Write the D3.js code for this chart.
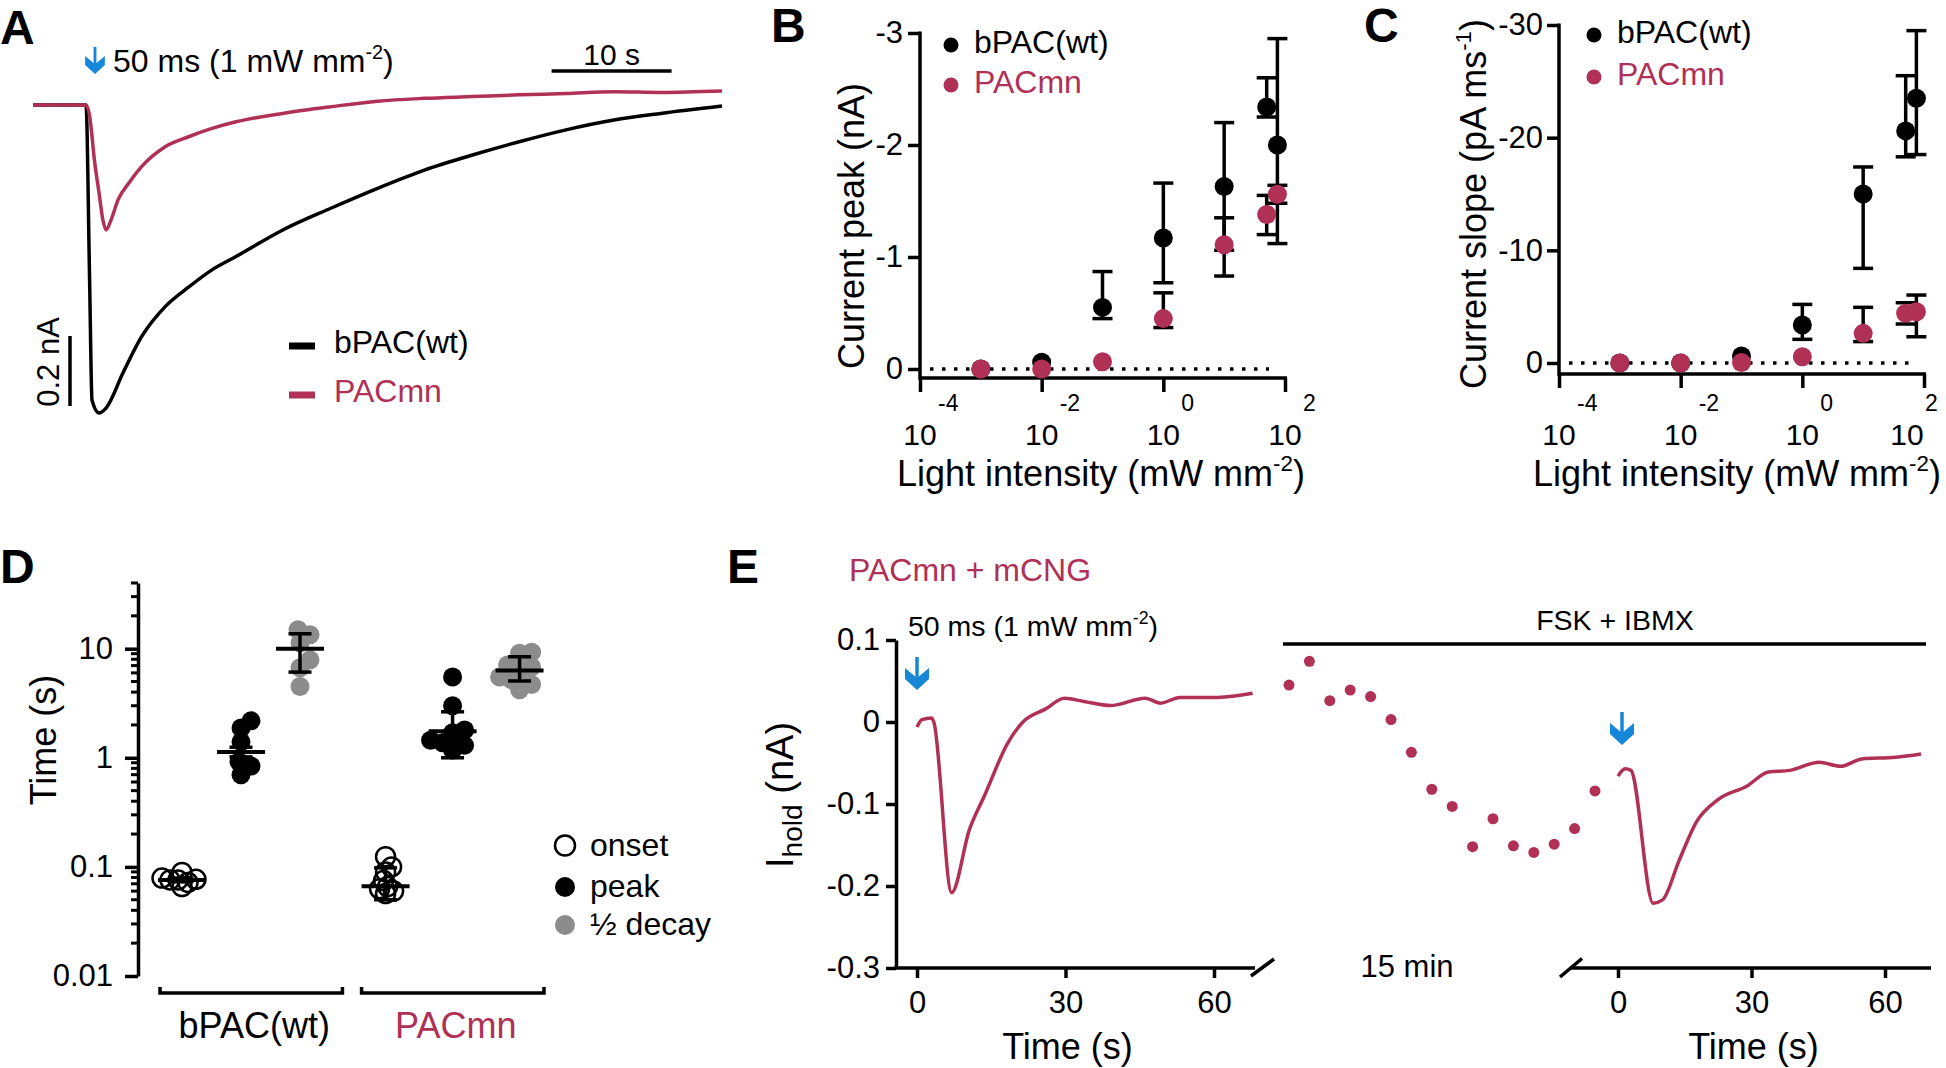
<!DOCTYPE html>
<html>
<head>
<meta charset="utf-8">
<script src="https://cdn.jsdelivr.net/npm/d3@7"></script>
<style>
  body { margin: 0; background: #fff; }
  text { font-family: "Liberation Sans", Arial, Helvetica, sans-serif; }
</style>
</head>
<body>
<div id="figure"></div>
<script>
var svgWidth = 1946;
var svgHeight = 1068;
var red = "#b03056";
var blue = "#1686d8";
var grey = "#8c8c8c";
var lw = 3.5;

// ---------- data ----------
// A: example photocurrents (time in s after the flash, current in nA)
var timeWt = [-4.4, -2, 0, 0.3, 0.5, 1.08, 1.67, 3.06, 4.63, 6.6, 8.6, 10.5, 12.5, 16.4, 20.4, 24.3, 28.2, 32.2, 36.1, 40.0, 44.0, 47.9, 53.0];
var currentWt = [0, 0, 0, -0.5, -0.843, -0.88, -0.866, -0.767, -0.662, -0.576, -0.519, -0.471, -0.433, -0.357, -0.295, -0.238, -0.186, -0.143, -0.105, -0.071, -0.043, -0.024, -0.003];
var timeMn = [-4.4, -2, 0, 0.31, 0.7, 1.09, 1.41, 1.68, 2.08, 2.67, 3.65, 4.63, 6.6, 8.6, 10.5, 12.5, 16.4, 20.4, 24.3, 28.2, 32.2, 36.1, 40.0, 44.0, 47.9, 53.0];
var currentMn = [0, 0, 0, -0.033, -0.157, -0.252, -0.329, -0.357, -0.329, -0.271, -0.219, -0.176, -0.119, -0.090, -0.067, -0.048, -0.024, -0.005, 0.011, 0.019, 0.024, 0.029, 0.033, 0.038, 0.036, 0.040];

// B, C: light intensity (mW mm-2)
var lightIntensity = [0.001, 0.01, 0.1, 1, 10, 50, 75];
var intensityPowers = [-4, -2, 0, 2];
// B: current peak (nA), ends of error bars
var peakWt   = [0, -0.06, -0.55, -1.17, -1.63, -2.34, -2.0];
var peakWtHi = [null, null, -0.87, -1.66, -2.20, -2.60, -2.95];
var peakWtLo = [null, null, -0.45, -0.77, -1.06, -2.25, -1.12];
var peakMn   = [0, 0, -0.065, -0.45, -1.11, -1.38, -1.56];
var peakMnHi = [null, null, null, -0.68, -1.35, -1.55, -1.64];
var peakMnLo = [null, null, null, -0.37, -0.83, -1.20, -1.48];
var peakTicks = [0, -1, -2, -3];
// C: current slope (pA ms-1)
var slopeWt   = [0, 0, -0.62, -3.37, -15.0, -20.6, -23.5];
var slopeWtHi = [null, null, null, -5.2, -17.4, -25.5, -29.5];
var slopeWtLo = [null, null, null, -2.1, -8.4, -18.3, -18.5];
var slopeMn   = [0, 0, -0.05, -0.56, -2.63, -4.41, -4.55];
var slopeMnHi = [null, null, null, null, -4.94, -5.35, -6.03];
var slopeMnLo = [null, null, null, null, -1.9, -3.46, -2.33];
var slopeTicks = [0, -10, -20, -30];

// D: kinetics (s)
var groups = ["bPAC(wt)", "PACmn"];
var measures = ["onset", "peak", "\u00bd decay"];
var onsetWt = [0.079, 0.072, 0.076, 0.076, 0.089, 0.077, 0.066];
var peakTimeWt = [1.88, 2.18, 1.40, 0.92, 0.84, 0.70];
var decayWt = [14.9, 13.4, 11.3, 7.9, 6.7, 4.5];
var onsetMn = [0.124, 0.100, 0.090, 0.075, 0.066, 0.060, 0.057, 0.063];
var peakTimeMn = [5.5, 3.0, 1.70, 1.80, 1.45, 1.30, 1.18, 1.37];
var decayMn = [9.3, 9.1, 6.8, 7.1, 5.2, 5.5, 4.2, 4.7, 6.3];
var meanWt = [0.076, 1.13, 10.0];
var hiWt = [0.079, 1.25, 13.7];
var loWt = [0.073, 1.02, 6.1];
var meanMn = [0.0665, 1.75, 6.3];
var hiMn = [0.098, 2.64, 8.44];
var loMn = [0.05, 1.0, 5.06];
var timeTicks = [0.01, 0.1, 1, 10];

// E: holding current (nA)
var timeBefore = [0, 1, 2.9, 3.4, 7.0, 10.6, 13.7, 18.3, 21.4, 26.0, 29.8, 33.7, 39.1, 46.1, 49.2, 53.1, 60.8, 67.8];
var holdBefore = [-0.006, 0.003, 0.005, 0.0, -0.208, -0.131, -0.089, -0.026, 0.0, 0.016, 0.029, 0.025, 0.020, 0.029, 0.023, 0.030, 0.030, 0.035];
var drugMinutes = [0, 1, 2, 3, 4, 5, 6, 7, 8, 9, 10, 11, 12, 13, 14, 15];
var holdDrug = [0.045, 0.074, 0.026, 0.039, 0.031, 0.003, -0.037, -0.082, -0.103, -0.152, -0.118, -0.151, -0.159, -0.149, -0.130, -0.084];
var timeAfter = [0, 1.6, 2.9, 7.9, 10.0, 13.8, 17.6, 22.4, 29.0, 33.8, 38.6, 45.2, 50.0, 54.8, 62.4, 68.1];
var holdAfter = [-0.066, -0.057, -0.059, -0.221, -0.217, -0.168, -0.122, -0.095, -0.078, -0.061, -0.059, -0.049, -0.054, -0.045, -0.043, -0.039];
var holdTicks = [0.1, 0, -0.1, -0.2, -0.3];
var secTicks = [0, 30, 60];

// ---------- helpers ----------
var svg = d3.select("#figure").append("svg")
  .attr("width", svgWidth)
  .attr("height", svgHeight);
svg.append("rect").attr("width", svgWidth).attr("height", svgHeight).attr("fill", "#fff");

// text made of parts: "plain", {sup: ".."} or {sub: ".."}
function richText(parent, x, y, parts, size, opt) {
  opt = opt || {};
  var t = parent.append("text")
    .attr("x", x).attr("y", y)
    .attr("font-size", size)
    .attr("text-anchor", opt.anchor || "start")
    .attr("fill", opt.color || "#000")
    .attr("font-weight", opt.weight || null);
  var shift = 0;
  parts.forEach(function (p) {
    var kind = typeof p === "string" ? "n" : (p.sup != null ? "sup" : "sub");
    var str = typeof p === "string" ? p : (kind === "sup" ? p.sup : p.sub);
    var target = 0, fs = size;
    if (kind === "sup") { target = -(opt.rise || 0.42) * size; fs = size * (opt.supScale || 0.62); }
    if (kind === "sub") { target = (opt.drop || 0.24) * size; fs = size * (opt.subScale || 0.74); }
    t.append("tspan").attr("dy", target - shift).attr("font-size", fs).text(str);
    shift = target;
  });
  return t;
}

function rotatedText(x, y, parts, size, opt) {
  var g = svg.append("g").attr("transform", "translate(" + x + "," + y + ") rotate(-90)");
  opt = Object.assign({ anchor: "middle" }, opt || {});
  return richText(g, 0, 0, parts, size, opt);
}

function panelLetter(x, y, letter) {
  svg.append("text").attr("x", x).attr("y", y)
    .attr("font-size", 48).attr("font-weight", "bold").text(letter);
}

function blueArrow(x, yTip, s) {
  var g = svg.append("g").attr("transform", "translate(" + x + "," + yTip + ") scale(" + s + ")");
  g.append("line").attr("x1", 0).attr("x2", 0).attr("y1", -33).attr("y2", -12)
    .attr("stroke", blue).attr("stroke-width", 3.5);
  g.append("path").attr("d", "M-12,-22L0,-12L12,-22L12,-11L0,0L-12,-11Z").attr("fill", blue);
}

function hline(x1, x2, y, w, color) {
  return svg.append("line").attr("x1", x1).attr("x2", x2).attr("y1", y).attr("y2", y)
    .attr("stroke", color || "#000").attr("stroke-width", w || lw);
}
function vline(x, y1, y2, w, color) {
  return svg.append("line").attr("x1", x).attr("x2", x).attr("y1", y1).attr("y2", y2)
    .attr("stroke", color || "#000").attr("stroke-width", w || lw);
}

// simple column scatter layout, like Prism's
function swarm(vals, yScale, minDist) {
  var idx = d3.range(vals.length).sort(function (a, b) { return d3.ascending(vals[a], vals[b]); });
  var placed = [], offs = [];
  idx.forEach(function (i) {
    var yy = yScale(vals[i]), dx = 0;
    for (var k = 0; k < 60; k++) {
      dx = (k % 2 ? 1 : -1) * Math.ceil(k / 2) * 2;
      var ok = placed.every(function (p) { return Math.hypot(p[0] - dx, p[1] - yy) >= minDist; });
      if (ok) break;
    }
    placed.push([dx, yy]);
    offs[i] = dx;
  });
  return offs;
}

function styleAxis(g, size) {
  g.attr("font-size", size).attr("font-family", null);
  g.selectAll(".tick line").attr("stroke-width", lw);
  g.select(".domain").attr("stroke-width", lw);
}

var flashParts = ["50 ms (1 mW mm", { sup: "-2" }, ")"];

// ---------- Panel A ----------
panelLetter(0, 44, "A");
var xA = d3.scaleLinear().domain([0, 10]).range([86, 206]);
var yA = d3.scaleLinear().domain([0, -0.2]).range([105, 175]);
var lineA = d3.line()
  .x(function (d) { return xA(d[0]); })
  .y(function (d) { return yA(d[1]); })
  .curve(d3.curveMonotoneX);

svg.append("path").datum(d3.zip(timeWt, currentWt))
  .attr("d", lineA).attr("fill", "none").attr("stroke", "#000").attr("stroke-width", 3.5);
svg.append("path").datum(d3.zip(timeMn, currentMn))
  .attr("d", lineA).attr("fill", "none").attr("stroke", red).attr("stroke-width", 3.5);

blueArrow(95, 74, 0.82);
richText(svg, 113, 72, flashParts, 32);

// scale bars
var barT0 = 38.8;
hline(xA(barT0), xA(barT0 + 10), 71);
svg.append("text").attr("x", (xA(barT0) + xA(barT0 + 10)) / 2).attr("y", 65)
  .attr("font-size", 30).attr("text-anchor", "middle").text("10 s");
var barI0 = -0.66;
vline(70, yA(barI0), yA(barI0 - 0.2));
rotatedText(59, 362, ["0.2 nA"], 31);

// legend
hline(289, 315, 346, 7, "#000");
svg.append("text").attr("x", 334).attr("y", 353).attr("font-size", 32).text("bPAC(wt)");
hline(289, 315, 395, 7, red);
svg.append("text").attr("x", 334).attr("y", 402).attr("font-size", 32).attr("fill", red).text("PACmn");

// ---------- Panels B and C ----------
function dosePanel(p) {
  var x = d3.scaleLog().domain([1e-4, 1e2]).range([p.x0, p.x1]);
  var y = d3.scaleLinear().domain([0, p.yMax]).range([p.y0, p.yTop]);

  vline(p.x0, p.yTop - 1.5, p.axisY + 1.75);
  hline(p.x0, p.x1 + 2, p.axisY);

  var yAxis = svg.append("g").attr("transform", "translate(" + p.x0 + ",0)")
    .call(d3.axisLeft(y).tickValues(p.yTicks).tickSize(12).tickPadding(p.pad)
      .tickFormat(function (d) { return String(d); }));
  yAxis.select(".domain").remove();
  styleAxis(yAxis, 31);

  var xAxis = svg.append("g").attr("transform", "translate(0," + p.axisY + ")")
    .call(d3.axisBottom(x).tickValues(intensityPowers.map(function (k) { return Math.pow(10, k); }))
      .tickSize(14).tickFormat(""));
  xAxis.select(".domain").remove();
  styleAxis(xAxis, 29);

  // "10" centred on the tick, exponent raised to its right
  intensityPowers.forEach(function (k, i) {
    var tx = x(Math.pow(10, k)) + (i === intensityPowers.length - 1 ? p.lastShift : 0);
    svg.append("text").attr("x", tx).attr("y", 445).attr("font-size", 30)
      .attr("text-anchor", "middle").text("10");
    svg.append("text").attr("x", tx + 18).attr("y", 411).attr("font-size", 23).text(String(k));
  });

  // dotted zero line
  hline(p.dotX0, p.dotX1, y(0), 3.5).attr("stroke-dasharray", "3.5 8.5");

  // error bars
  [[p.wtHi, p.wtLo], [p.mnHi, p.mnLo]].forEach(function (ends) {
    lightIntensity.forEach(function (v, i) {
      if (ends[0][i] == null) return;
      var cx = x(v);
      vline(cx, y(ends[0][i]), y(ends[1][i]));
      hline(cx - 10, cx + 10, y(ends[0][i]));
      hline(cx - 10, cx + 10, y(ends[1][i]));
    });
  });

  [[p.wt, "#000"], [p.mn, red]].forEach(function (s) {
    svg.append("g").selectAll("circle")
      .data(s[0])
      .enter()
      .append("circle")
      .attr("cx", function (d, i) { return x(lightIntensity[i]); })
      .attr("cy", function (d) { return y(d); })
      .attr("r", 9.5)
      .attr("fill", s[1]);
  });

  // legend
  svg.append("circle").attr("cx", p.legX).attr("cy", p.legY[0]).attr("r", 7.5).attr("fill", "#000");
  svg.append("text").attr("x", p.legX + 23).attr("y", p.legY[0] + 7.5).attr("font-size", 32).text("bPAC(wt)");
  svg.append("circle").attr("cx", p.legX).attr("cy", p.legY[1]).attr("r", 7.5).attr("fill", red);
  svg.append("text").attr("x", p.legX + 23).attr("y", p.legY[1] + 7.5).attr("font-size", 32)
    .attr("fill", red).text("PACmn");

  richText(svg, p.titleX, 486, ["Light intensity (mW mm", { sup: "-2" }, ")"], 36, { anchor: "middle" });
  rotatedText(p.yTitleX, p.yTitleY, p.yTitle, 36);
}

panelLetter(771, 42, "B");
dosePanel({
  x0: 920, x1: 1285, y0: 369, yTop: 33, yMax: -3, axisY: 378, pad: 5, lastShift: 0,
  yTicks: peakTicks, dotX0: 930, dotX1: 1269,
  wt: peakWt, wtHi: peakWtHi, wtLo: peakWtLo,
  mn: peakMn, mnHi: peakMnHi, mnLo: peakMnLo,
  legX: 951, legY: [45, 85], titleX: 1101,
  yTitleX: 864, yTitleY: 226, yTitle: ["Current peak (nA)"]
});

panelLetter(1364, 42, "C");
dosePanel({
  x0: 1559, x1: 1924, y0: 363, yTop: 25, yMax: -30, axisY: 374, pad: 4, lastShift: -17,
  yTicks: slopeTicks, dotX0: 1569, dotX1: 1916,
  wt: slopeWt, wtHi: slopeWtHi, wtLo: slopeWtLo,
  mn: slopeMn, mnHi: slopeMnHi, mnLo: slopeMnLo,
  legX: 1594, legY: [35, 77], titleX: 1737,
  yTitleX: 1486, yTitleY: 204, yTitle: ["Current slope (pA ms", { sup: "-1" }, ")"]
});

// ---------- Panel D ----------
panelLetter(0, 583, "D");
var yD = d3.scaleLog().domain([0.01, 40]).range([976, 583]);
var xGroup = d3.scaleBand().domain(groups).range([160, 544]).paddingInner(0.095);
// measure columns inside each bracket
var xMeasure = {
  "bPAC(wt)": d3.scalePoint().domain(measures).range([22, 140]),
  "PACmn": d3.scalePoint().domain(measures).range([24, 158])
};

var yAxisD = svg.append("g").attr("transform", "translate(138,0)")
  .call(d3.axisLeft(yD).tickValues(timeTicks).tickSize(13).tickPadding(12).tickSizeOuter(0)
    .tickFormat(function (d) { return String(d); }));
styleAxis(yAxisD, 31);
yAxisD.selectAll(".minor")
  .data(yD.ticks().filter(function (d) { return timeTicks.indexOf(d) < 0; }))
  .enter()
  .append("line")
  .attr("class", "minor")
  .attr("x1", -7).attr("x2", 0)
  .attr("y1", function (d) { return yD(d); })
  .attr("y2", function (d) { return yD(d); })
  .attr("stroke", "#000").attr("stroke-width", 3);

rotatedText(56, 740, ["Time (s)"], 36);

var columnsD = [
  [groups[0], [onsetWt, peakTimeWt, decayWt], meanWt, hiWt, loWt],
  [groups[1], [onsetMn, peakTimeMn, decayMn], meanMn, hiMn, loMn]
];
var fillD = ["none", "#000", grey];
var spacingD = [7, 12, 12];

columnsD.forEach(function (col) {
  var gx = xGroup(col[0]);
  measures.forEach(function (m, j) {
    var vals = col[1][j];
    var cx = gx + xMeasure[col[0]](m);
    var offs = swarm(vals, yD, spacingD[j]);
    svg.append("g").selectAll("circle")
      .data(vals)
      .enter()
      .append("circle")
      .attr("cx", function (d, i) { return cx + offs[i]; })
      .attr("cy", function (d) { return yD(d); })
      .attr("r", 9.5)
      .attr("fill", fillD[j])
      .attr("stroke", j === 0 ? "#000" : "none")
      .attr("stroke-width", 2.5);
  });
  measures.forEach(function (m, j) {
    var cx = gx + xMeasure[col[0]](m);
    vline(cx, yD(col[3][j]), yD(col[4][j]));
    hline(cx - 11.5, cx + 11.5, yD(col[3][j]));
    hline(cx - 11.5, cx + 11.5, yD(col[4][j]));
    hline(cx - 24, cx + 24, yD(col[2][j]), 4);
  });
  // group bracket
  svg.append("path")
    .attr("d", "M" + gx + ",987V993H" + (gx + xGroup.bandwidth()) + "V987")
    .attr("fill", "none").attr("stroke", "#000").attr("stroke-width", lw);
  svg.append("text").attr("x", gx + xGroup.bandwidth() / 2 + 3).attr("y", 1038)
    .attr("font-size", 36).attr("text-anchor", "middle")
    .attr("fill", col[0] === "PACmn" ? red : "#000").text(col[0]);
});

// legend D
[845.5, 887, 925].forEach(function (ly, j) {
  svg.append("circle").attr("cx", 565).attr("cy", ly).attr("r", 10)
    .attr("fill", fillD[j]).attr("stroke", j === 0 ? "#000" : "none").attr("stroke-width", 2.5);
  svg.append("text").attr("x", 590).attr("y", ly + 10).attr("font-size", 32).text(measures[j]);
});

// ---------- Panel E ----------
panelLetter(727, 583, "E");
richText(svg, 849, 581, ["PACmn + mCNG"], 32, { color: red });

var yE = d3.scaleLinear().domain([-0.3, 0.1]).range([968, 640]);
var xE1 = d3.scaleLinear().domain([0, 60]).range([917, 1214]);
var xEm = d3.scaleLinear().domain([0, 15]).range([1289, 1595]);
var xE2 = d3.scaleLinear().domain([0, 60]).range([1618, 1885]);

var yAxisE = svg.append("g").attr("transform", "translate(896,0)")
  .call(d3.axisLeft(yE).tickValues(holdTicks).tickSize(10).tickPadding(6).tickSizeOuter(0)
    .tickFormat(function (d) { return String(d); }));
styleAxis(yAxisE, 31);

[[xE1, 896, 1255], [xE2, 1573, 1931]].forEach(function (a) {
  var ax = svg.append("g").attr("transform", "translate(0,968)")
    .call(d3.axisBottom(a[0]).tickValues(secTicks).tickSize(10).tickPadding(13));
  ax.select(".domain").remove();
  styleAxis(ax, 31);
  hline(a[1] - 1.75, a[2], 968);
  svg.append("text").attr("x", (a[0](0) + a[0](60)) / 2 + 2).attr("y", 1059)
    .attr("font-size", 36).attr("text-anchor", "middle").text("Time (s)");
});
// axis breaks
svg.append("line").attr("x1", 1251).attr("y1", 976).attr("x2", 1274).attr("y2", 959)
  .attr("stroke", "#000").attr("stroke-width", lw);
svg.append("line").attr("x1", 1560).attr("y1", 977).attr("x2", 1582).attr("y2", 958.5)
  .attr("stroke", "#000").attr("stroke-width", lw);

rotatedText(793, 795, ["I", { sub: "hold" }, " (nA)"], 38);

var lineE1 = d3.line()
  .x(function (d) { return xE1(d[0]); })
  .y(function (d) { return yE(d[1]); })
  .curve(d3.curveMonotoneX);
var lineE2 = d3.line()
  .x(function (d) { return xE2(d[0]); })
  .y(function (d) { return yE(d[1]); })
  .curve(d3.curveMonotoneX);
svg.append("path").datum(d3.zip(timeBefore, holdBefore))
  .attr("d", lineE1).attr("fill", "none").attr("stroke", red).attr("stroke-width", 3.5);
svg.append("path").datum(d3.zip(timeAfter, holdAfter))
  .attr("d", lineE2).attr("fill", "none").attr("stroke", red).attr("stroke-width", 3.5);

svg.append("g").selectAll("circle")
  .data(holdDrug)
  .enter()
  .append("circle")
  .attr("cx", function (d, i) { return xEm(drugMinutes[i]); })
  .attr("cy", function (d) { return yE(d); })
  .attr("r", 5.5)
  .attr("fill", red);

blueArrow(xE1(0), 690, 1);
blueArrow(xE2(0) + 4, 745, 1);
richText(svg, 908, 636, flashParts, 28.5);

hline(1283, 1926, 644);
svg.append("text").attr("x", 1615).attr("y", 630).attr("font-size", 28.5)
  .attr("text-anchor", "middle").text("FSK + IBMX");
svg.append("text").attr("x", 1407).attr("y", 977).attr("font-size", 31)
  .attr("text-anchor", "middle").text("15 min");
</script>
</body>
</html>
